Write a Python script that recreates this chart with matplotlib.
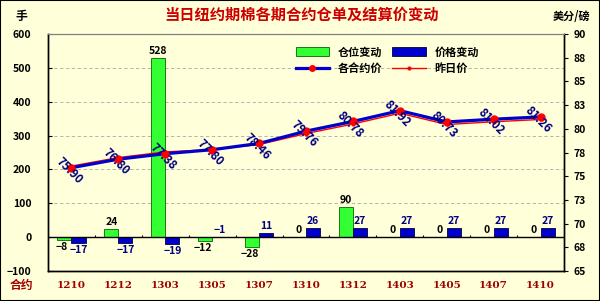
import matplotlib
matplotlib.use("Agg")
import matplotlib.pyplot as plt
import numpy as np
from matplotlib.patches import Patch
from matplotlib.lines import Line2D

plt.rcParams["font.family"] = ["Noto Sans CJK SC", "DejaVu Sans"]
plt.rcParams["font.weight"] = "bold"

contracts = ["1210", "1212", "1303", "1305", "1307", "1310", "1312", "1403", "1405", "1407", "1410"]
stock_change = [-8, 24, 528, -12, -28, 0, 90, 0, 0, 0, 0]          # 仓位变动 (手)
price_change = [-17, -17, -19, -1, 11, 26, 27, 27, 27, 27, 27]     # 价格变动 (点)
settle = [75.90, 76.80, 77.38, 77.80, 78.46, 79.76, 80.78, 81.92, 80.73, 81.02, 81.26]
prev_settle = [76.07, 76.97, 77.57, 77.81, 78.35, 79.50, 80.51, 81.65, 80.46, 80.75, 80.99]

BG = "#FFFFD9"
GREEN = "#33FF33"
BLUE = "#0000CC"
NAVY = "#000080"
DARKRED = "#A00000"

fig = plt.figure(figsize=(6.0, 3.01), dpi=100, facecolor=BG)
ax = fig.add_axes([0.08, 0.0997, 0.86, 0.787], facecolor=BG)
ax2 = ax.twinx()

x = np.arange(len(contracts))
w = 0.3
ax.bar(x - w / 2, stock_change, w, color=GREEN, edgecolor="#006600", linewidth=0.6, zorder=3)
ax.bar(x + w / 2, price_change, w, color=BLUE, edgecolor="#000040", linewidth=0.6, zorder=3)

ax.set_ylim(-100, 600)
ax.set_xlim(-0.5, len(contracts) - 0.5)
ax.set_yticks(range(-100, 601, 100))
ax.yaxis.grid(True, linestyle=(0, (4, 3)), color="#AAAAAA", linewidth=0.6)
ax.set_axisbelow(True)
ax.axhline(0, color="black", linewidth=1.0, zorder=4)
ax.vlines(x[:-1] + 0.5, 0, 6, color="black", linewidth=0.8, zorder=4)

ax.set_xticks(x)
ax.set_xticklabels(contracts, color=DARKRED, fontsize=7.5, fontweight="bold", family="DejaVu Serif")
ax.tick_params(axis="x", length=0, pad=7)
ax.tick_params(axis="y", labelsize=7.5, length=3, direction="in", pad=12)
for lab in ax.get_yticklabels():
    lab.set_fontweight("bold")

# bar labels
for i, v in enumerate(stock_change):
    if v > 0:
        ax.text(i - w / 2, v + 6, str(v), ha="center", va="bottom", fontsize=7.5, color="black")
    elif v == 0:
        ax.text(i - w / 2, 20, "0", ha="center", va="center", fontsize=7.5, color="black")
    else:
        ax.text(i - w / 2 - 0.05, v - 6, "\u2212" + str(-v), ha="center", va="top", fontsize=7.5, color="black")
for i, v in enumerate(price_change):
    if v > -5:
        lbl = str(v) if v >= 0 else "\u2212" + str(-v)
        ax.text(i + w / 2, max(v, 0) + 6, lbl, ha="center", va="bottom", fontsize=7.5, color=NAVY)
    else:
        ax.text(i + w / 2, v - 6, "\u2212" + str(-v), ha="center", va="top", fontsize=7.5, color=NAVY)

# price lines
ax2.plot(x, prev_settle, color="#FF0000", linewidth=1.0, marker="o", markersize=2, zorder=5)
ax2.plot(x, settle, color=BLUE, linewidth=2.3, marker="o", markersize=5,
         markerfacecolor="#FF0000", markeredgecolor="#FF0000", zorder=6)
for i, v in enumerate(settle):
    ax2.text(i - 0.05, v - 0.3, f"{v:.2f}", rotation=-45, ha="center", va="center",
             fontsize=8.5, color=NAVY, rotation_mode="anchor", zorder=7)
ax2.set_ylim(65, 90)
ax2.set_yticks(np.arange(65, 90.1, 2.5))
ax2.set_yticklabels([str(int(np.floor(t + 0.5))) for t in np.arange(65, 90.1, 2.5)])
ax2.tick_params(axis="y", labelsize=7.5, length=3, pad=4)
for lab in ax2.get_yticklabels():
    lab.set_fontweight("bold")

for a in (ax, ax2):
    a.spines["top"].set_color("#808080")
    a.spines["top"].set_linewidth(0.8)
    a.spines["left"].set_linewidth(1.0)
    a.spines["right"].set_linewidth(1.0)
    a.spines["bottom"].set_linewidth(1.0)

handles = [
    Patch(facecolor=GREEN, edgecolor="#006600", linewidth=0.6),
    Line2D([], [], color=BLUE, linewidth=2.3, marker="o", markersize=4,
           markerfacecolor="#FF0000", markeredgecolor="#FF0000"),
    Patch(facecolor=BLUE, edgecolor="#000040", linewidth=0.6),
    Line2D([], [], color="#FF0000", linewidth=1.0, marker="o", markersize=2),
]
labels = ["仓位变动", "各合约价", "价格变动", "昨日价"]
ax2.legend(handles, labels, ncol=2, loc="upper left", bbox_to_anchor=(0.465, 0.985),
           frameon=False, handlelength=3, handleheight=0.9,
           columnspacing=0.9, labelspacing=0.35, borderaxespad=0.3,
           prop={"weight": "bold", "size": 8})

fig.text(0.503, 0.95, "当日纽约期棉各期合约仓单及结算价变动", ha="center", va="center",
         fontsize=11, fontweight="bold", color="#CC0000")
fig.text(0.035, 0.945, "手", ha="center", va="center", fontsize=8.5, fontweight="bold")
fig.text(0.952, 0.945, "美分/磅", ha="center", va="center", fontsize=8, fontweight="bold")
fig.text(0.035, 0.052, "合约", ha="center", va="center", fontsize=8.5, fontweight="bold", color=DARKRED)

fig.patches.append(plt.Rectangle((0, 0), 1, 1, transform=fig.transFigure, fill=False,
                                 edgecolor="black", linewidth=1.5))

fig.savefig("out.png", dpi=100, facecolor=BG)
